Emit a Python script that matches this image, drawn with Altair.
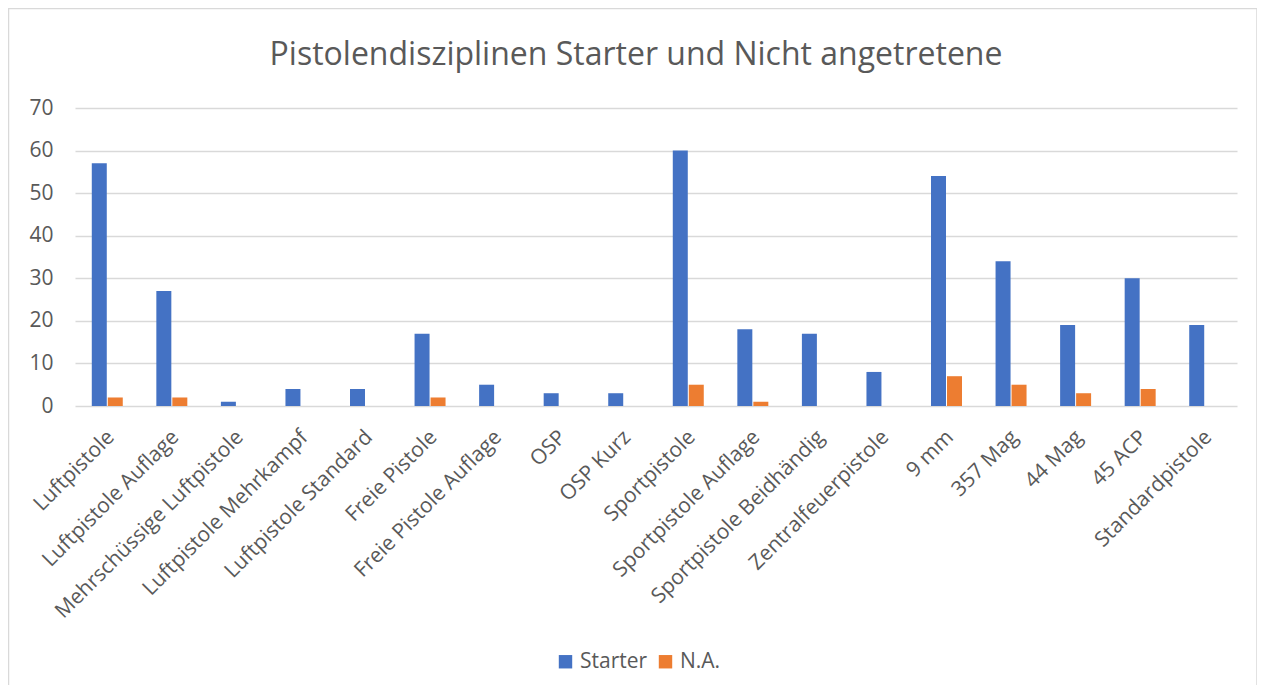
import altair as alt
import pandas as pd

categories = [
    "Luftpistole", "Luftpistole Auflage", "Mehrschüssige Luftpistole",
    "Luftpistole Mehrkampf", "Luftpistole Standard", "Freie Pistole",
    "Freie Pistole Auflage", "OSP", "OSP Kurz", "Sportpistole",
    "Sportpistole Auflage", "Sportpistole Beidhändig", "Zentralfeuerpistole",
    "9 mm", "357 Mag", "44  Mag", "45 ACP", "Standardpistole",
]
starter = [57, 27, 1, 4, 4, 17, 5, 3, 3, 60, 18, 17, 8, 54, 34, 19, 30, 19]
na = [2, 2, 0, 0, 0, 2, 0, 0, 0, 5, 1, 0, 0, 7, 5, 3, 4, 0]
series_names = ["Starter", "N.A."]
series_colors = ["#4472C4", "#ED7D31"]
y_ticks = [0, 10, 20, 30, 40, 50, 60, 70]

rows = []
for c, s, n in zip(categories, starter, na):
    rows.append({"Kategorie": c, "Serie": "Starter", "Wert": s})
    rows.append({"Kategorie": c, "Serie": "N.A.", "Wert": n})
df = pd.DataFrame(rows)

FONT = "Open Sans"
GREY = "#595959"
W, H = 1162, 298
PL, PT = 67, 100

bars = alt.Chart(df).mark_bar().encode(
    x=alt.X("Kategorie:N", sort=categories, title=None,
            scale=alt.Scale(paddingInner=0.52, paddingOuter=0.26),
            axis=alt.Axis(labelAngle=-45, labelAlign="right", labelBaseline="top",
                          labelPadding=20, labelOffset=-4, labelFontSize=21,
                          labelColor=GREY, labelFont=FONT, ticks=False, domain=False,
                          grid=False, labelLimit=400)),
    xOffset=alt.XOffset("Serie:N", sort=series_names,
                        scale=alt.Scale(paddingInner=0.0625, paddingOuter=0)),
    y=alt.Y("Wert:Q", title=None,
            scale=alt.Scale(domain=[0, 70], nice=False),
            axis=alt.Axis(values=y_ticks, labelFontSize=21, labelColor=GREY,
                          labelFont=FONT, labelPadding=22, ticks=False, domain=False,
                          grid=True, gridColor="#d9d9d9", gridWidth=1.5)),
    color=alt.Color("Serie:N", sort=series_names,
                    scale=alt.Scale(domain=series_names, range=series_colors),
                    legend=alt.Legend(title=None, orient="none", direction="horizontal",
                                      legendX=480, legendY=543, symbolType="square",
                                      symbolSize=180, symbolStrokeWidth=0,
                                      labelFontSize=21, labelColor=GREY, labelFont=FONT,
                                      labelOffset=4, columnPadding=7)),
)

border = alt.Chart(pd.DataFrame({"a": [0]})).mark_rect(
    fill=None, stroke="#d9d9d9", strokeWidth=1.5
).encode(
    x=alt.value(8 - 8 - PL + 0.5), x2=alt.value(1257 - 8 - PL),
    y=alt.value(8 - 8 - PT + 0.5), y2=alt.value(690 - 8 - PT),
)

chart = alt.layer(border, bars).properties(
    width=W, height=H,
    title=alt.TitleParams("Pistolendisziplinen Starter und Nicht angetretene",
                          font=FONT, fontSize=32, fontWeight="normal", color=GREY,
                          anchor="middle", dx=-20, offset=-64),
    autosize=alt.AutoSizeParams(type="none"),
    padding={"left": PL, "top": PT, "right": 20, "bottom": 279},
).configure_view(stroke=None)

chart.save("out.html", embed_options={"renderer": "svg", "actions": False})
